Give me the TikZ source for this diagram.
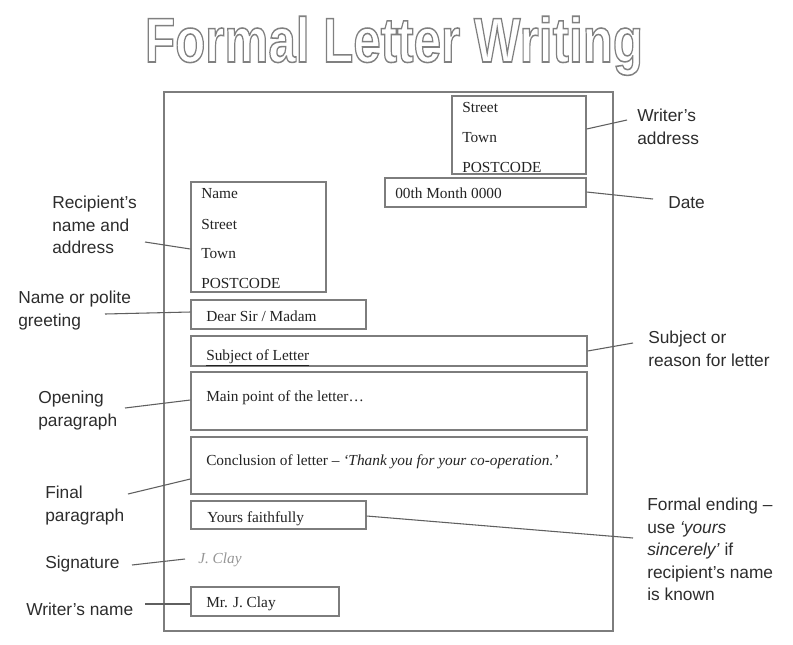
\documentclass[tikz,border=0pt]{standalone}
\usepackage{fontspec}
\setmainfont{Liberation Serif}
\newfontfamily\labfont{Liberation Sans}
\usetikzlibrary{fit}
\definecolor{boxgray}{RGB}{125,125,125}
\definecolor{linegray}{RGB}{95,95,95}
\definecolor{txtc}{RGB}{35,35,35}
\definecolor{labc}{RGB}{45,45,45}
\definecolor{sigc}{RGB}{150,150,150}
\newcommand{\outlinetext}[1]{\special{pdf:literal direct 1 Tr 0.9 w 0.5 0.5 0.5 RG}#1\special{pdf:literal direct 0 Tr}}
\begin{document}
\begin{tikzpicture}[x=0.75pt,y=-0.75pt,
  lbox/.style={draw=boxgray,line width=1pt,inner sep=0pt},
  btxt/.style={anchor=base west,inner sep=0pt,text=txtc,font=\fontsize{11.5}{13}\selectfont},
  lab/.style={anchor=north west,inner sep=0pt,align=left,text=labc,font=\labfont\fontsize{13}{16.9}\selectfont},
  conn/.style={draw=linegray,line width=0.8pt}]
\useasboundingbox[fill=white] (0,0) rectangle (793,644);

% title
\node[anchor=base,inner sep=0pt,font=\labfont\bfseries\fontsize{37}{40}\selectfont] (title) at (394,62)
  {\scalebox{1}[1.28]{\outlinetext{Formal Letter Writing}}};

% page
\node[lbox,fit={(164,92) (613,631)}] (page) {};

% boxes
\node[lbox,fit={(452,96) (586,174)}] (wa) {};
\node[lbox,fit={(385,178) (586,207)}] (date) {};
\node[lbox,fit={(191,182) (326,292)}] (rec) {};
\node[lbox,fit={(191,300) (366,329)}] (dear) {};
\node[lbox,fit={(191,336) (587,366)}] (subj) {};
\node[lbox,fit={(191,372) (587,430)}] (main) {};
\node[lbox,fit={(191,437) (587,494)}] (conc) {};
\node[lbox,fit={(191,501) (366,529)}] (yours) {};
\node[lbox,fit={(191,587) (339,616)}] (mr) {};

% box texts
\node[btxt] (wa1) at (462,112) {Street};
\node[btxt] (wa2) at (462,142) {Town};
\node[btxt] (wa3) at (462,172) {POSTCODE};
\node[btxt] (datet) at (395,198) {00th Month 0000};
\node[btxt] (rec1) at (201,198) {Name};
\node[btxt] (rec2) at (201,229) {Street};
\node[btxt] (rec3) at (201,258) {Town};
\node[btxt] (rec4) at (201,288) {POSTCODE};
\node[btxt] (deart) at (206,321) {Dear Sir / Madam};
\node[btxt] (subjt) at (206,360) {\underline{Subject of Letter}};
\node[btxt] (maint) at (206,401) {Main point of the letter…};
\node[btxt] (conct) at (206,465) {Conclusion of letter – \textit{‘Thank you for your co-operation.’}};
\node[btxt] (yourst) at (207,522) {Yours faithfully};
\node[btxt,text=sigc,font=\itshape\fontsize{11.5}{13}\selectfont] (sig) at (198,563) {J. Clay};
\node[btxt] (mrt) at (206,607) {Mr. J. Clay};

% labels
\node[lab] (rlab) at (52,196) {Recipient’s\\name and\\address};
\node[lab] (glab) at (18,291) {Name or polite\\greeting};
\node[lab] (olab) at (38,391) {Opening\\paragraph};
\node[lab] (flab) at (45,486) {Final\\paragraph};
\node[lab] (slab) at (45,556) {Signature};
\node[lab] (nlab) at (26,603) {Writer’s name};
\node[lab] (walab) at (637,109) {Writer’s\\address};
\node[lab] (dlab) at (668,196) {Date};
\node[lab] (sublab) at (648,331) {Subject or\\reason for letter};
\node[lab] (elab) at (647,498) {Formal ending –\\use \textit{‘yours}\\\textit{sincerely’} if\\recipient’s name\\is known};

% connector free ends
\coordinate (cwa) at (627,120);
\coordinate (cdate) at (653,199);
\coordinate (crec) at (145,242);
\coordinate (cdear) at (105,314);
\coordinate (csubj) at (633,343);
\coordinate (cmain) at (125,408);
\coordinate (cconc) at (128,494);
\coordinate (cyours) at (633,538);
\coordinate (csig1) at (132,565);
\coordinate (csig2) at (185,559);
\coordinate (cmr) at (145,604);

% connectors
\draw[conn] (wa.east |- 0,129) -- (cwa);
\draw[conn] (date.east |- 0,192) -- (cdate);
\draw[conn] (crec) -- (rec.west |- 0,249);
\draw[conn] (cdear) -- (dear.west |- 0,312);
\draw[conn] (subj.east |- 0,351) -- (csubj);
\draw[conn] (cmain) -- (main.west |- 0,400);
\draw[conn] (cconc) -- (conc.west |- 0,479);
\draw[conn] (yours.east |- 0,516) -- (cyours);
\draw[conn] (csig1) -- (csig2);
\draw[conn] (cmr) -- (mr.west |- 0,604);
\end{tikzpicture}
\end{document}
